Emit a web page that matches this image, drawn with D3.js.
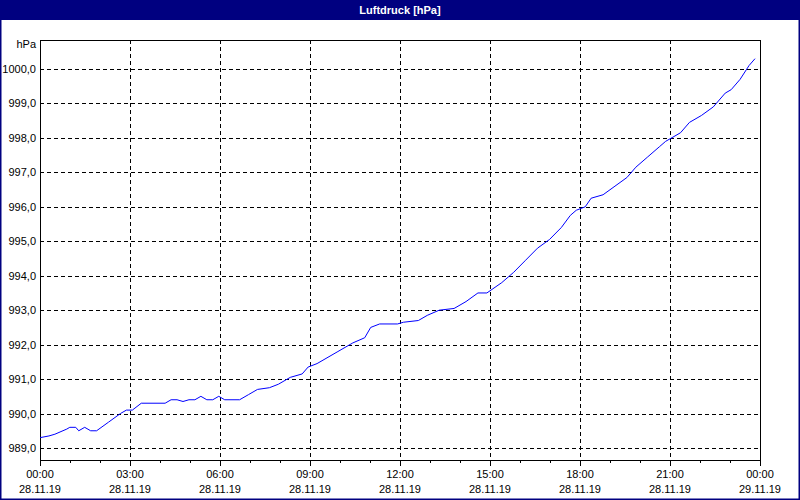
<!DOCTYPE html><html><head><meta charset="utf-8">
<script src="https://cdn.jsdelivr.net/npm/d3@7"></script>
<style>body{margin:0}svg{display:block;font-family:"Liberation Sans",Arial,sans-serif}</style></head><body>
<svg id="c" width="800" height="500"></svg>
<script>
const hours=[0,0.3,0.5,0.9,1.0,1.2,1.3,1.5,1.7,1.9,2.3,2.7,2.9,3.1,3.4,4.2,4.4,4.6,4.8,5.0,5.2,5.4,5.6,5.8,6.0,6.2,6.7,7.0,7.3,7.7,8.0,8.4,8.8,9.0,9.3,10.0,10.5,10.9,11.1,11.4,12.0,12.2,12.7,13.0,13.4,13.9,14.3,14.7,15.0,15.5,15.9,16.3,16.7,17.1,17.5,17.8,18.0,18.3,18.5,18.9,19.3,19.7,20.0,20.4,20.8,21.0,21.5,21.8,22.2,22.6,23.0,23.2,23.5,23.8,24.0];
const pressure=[989.3,989.35,989.4,989.55,989.6,989.6,989.5,989.6,989.5,989.5,989.75,990.0,990.1,990.1,990.3,990.3,990.4,990.4,990.35,990.4,990.4,990.5,990.4,990.4,990.5,990.4,990.4,990.55,990.7,990.75,990.85,991.05,991.15,991.35,991.45,991.8,992.05,992.2,992.5,992.6,992.6,992.65,992.7,992.85,993.0,993.05,993.25,993.5,993.5,993.8,994.1,994.45,994.8,995.05,995.4,995.75,995.9,996.0,996.25,996.35,996.6,996.85,997.15,997.45,997.75,997.9,998.15,998.45,998.65,998.9,999.3,999.4,999.7,1000.1,1000.3];
const yTicks=[989,990,991,992,993,994,995,996,997,998,999,1000];
const xTickHours=[0,3,6,9,12,15,18,21,24];
const xTimeLabels=["00:00","03:00","06:00","09:00","12:00","15:00","18:00","21:00","00:00"];
const xDateLabels=["28.11.19","28.11.19","28.11.19","28.11.19","28.11.19","28.11.19","28.11.19","28.11.19","29.11.19"];
const svg=d3.select("#c");
svg.append("rect").attr("x",0.5).attr("y",0.5).attr("width",799).attr("height",499).attr("fill","#fff").attr("stroke","#000080").attr("stroke-width",2);
svg.append("rect").attr("x",0).attr("y",0).attr("width",800).attr("height",20).attr("fill","#000080");
svg.append("text").attr("x",400).attr("y",14).attr("text-anchor","middle").attr("fill","#fff").attr("font-weight","bold").attr("font-size",11).text("Luftdruck [hPa]");
const L=40,R=760,T=40,B=460;
const x=d3.scaleLinear().domain([0,24]).range([L,R]);
const y=d3.scaleLinear().domain([989,1000]).range([448,69]);
const g=svg.append("g").attr("shape-rendering","crispEdges");
yTicks.forEach(v=>{g.append("line").attr("x1",L).attr("x2",R).attr("y1",Math.round(y(v))+.5).attr("y2",Math.round(y(v))+.5).attr("stroke","#000").attr("stroke-dasharray","4,3");
 svg.append("text").attr("x",L-4).attr("y",y(v)+4).attr("text-anchor","end").attr("font-size",11).text(d3.format(".1f")(v).replace(".",","));});
xTickHours.slice(1,-1).forEach(h=>g.append("line").attr("x1",Math.round(x(h))+.5).attr("x2",Math.round(x(h))+.5).attr("y1",T).attr("y2",B).attr("stroke","#000").attr("stroke-dasharray","4,3"));
d3.range(0,25).forEach(h=>g.append("line").attr("x1",Math.round(x(h))+.5).attr("x2",Math.round(x(h))+.5).attr("y1",B).attr("y2",B+(h%3==0?6:3)).attr("stroke","#000"));
g.append("rect").attr("x",L+.5).attr("y",T+.5).attr("width",R-L).attr("height",B-T).attr("fill","none").attr("stroke","#000");
svg.append("text").attr("x",L-4).attr("y",T+8).attr("text-anchor","end").attr("font-size",11).text("hPa");
xTickHours.forEach((h,i)=>{svg.append("text").attr("x",x(h)).attr("y",478).attr("text-anchor","middle").attr("font-size",11).text(xTimeLabels[i]);
 svg.append("text").attr("x",x(h)).attr("y",493).attr("text-anchor","middle").attr("font-size",11).text(xDateLabels[i]);});
const data=hours.map((h,i)=>[h,pressure[i]]);
svg.append("path").datum(data).attr("d",d3.line().x(d=>x(d[0])-5*d[0]/24).y(d=>y(d[1]))).attr("fill","none").attr("stroke","#0000ff").attr("stroke-width",1);
</script></body></html>
